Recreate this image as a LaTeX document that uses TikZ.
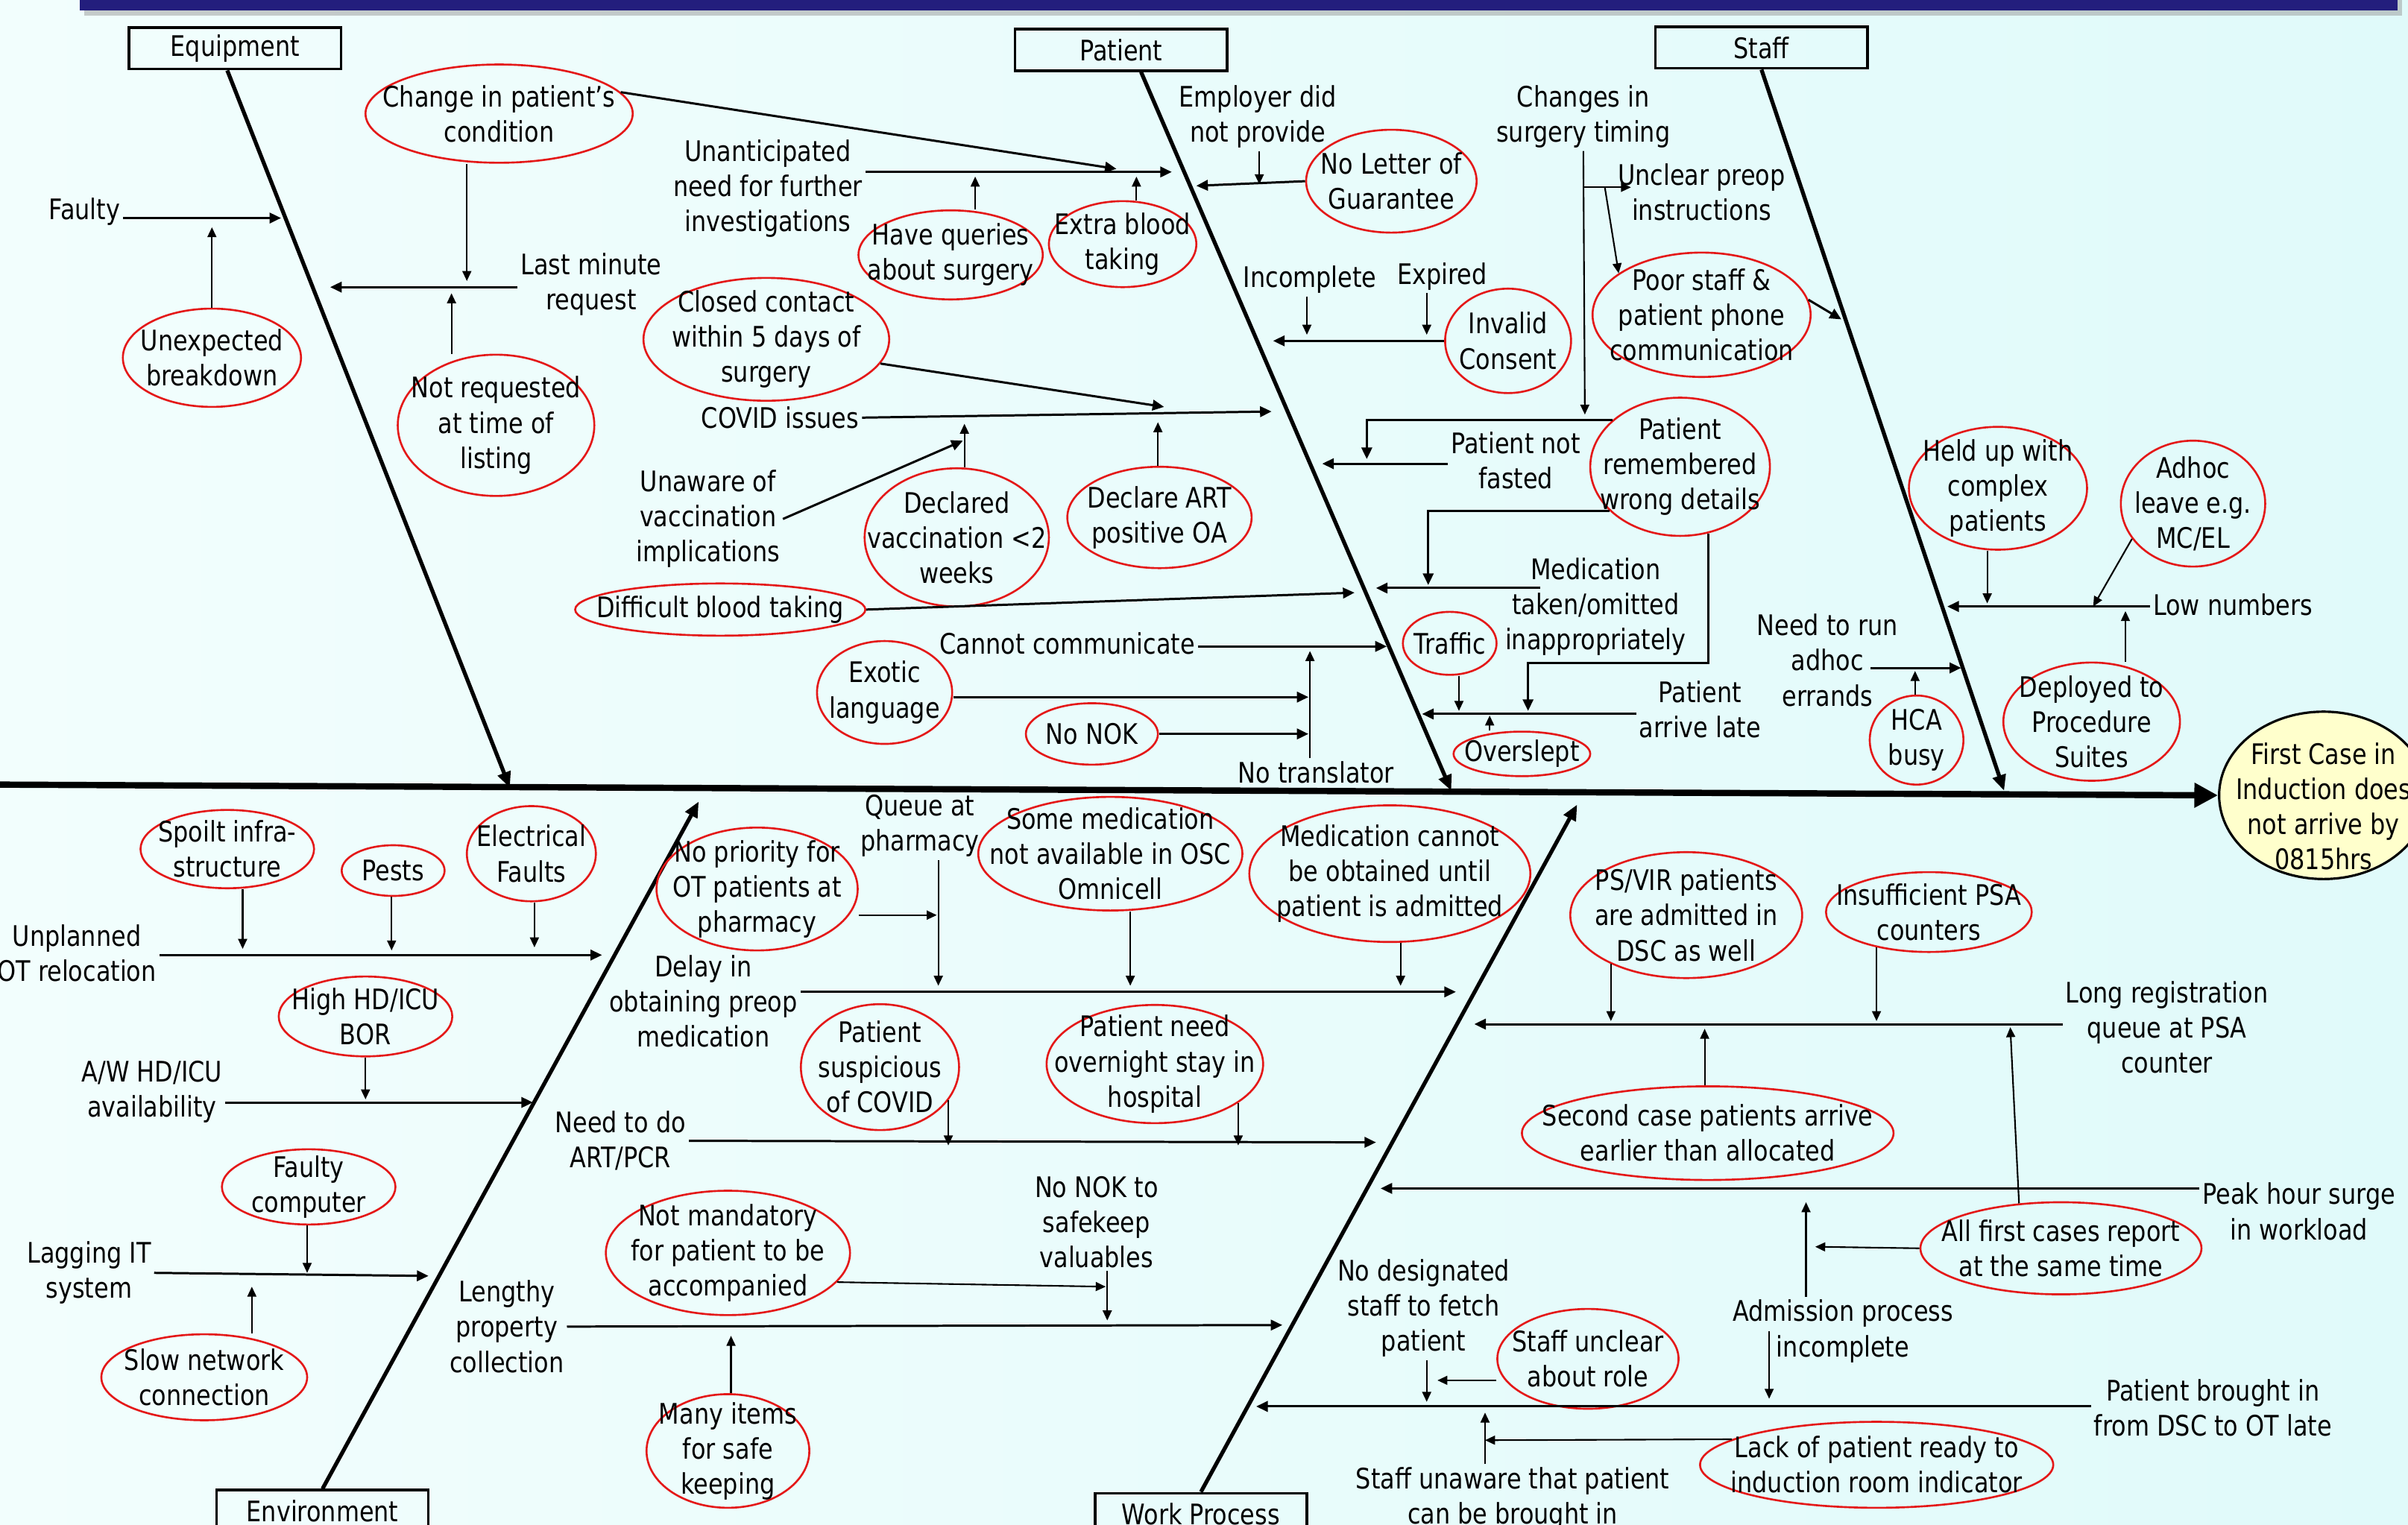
\documentclass[tikz,border=0pt]{standalone}
\usepackage{fontspec}
\setmainfont[FakeStretch=0.84]{DejaVu Sans}
\usepackage{xcolor}
\usetikzlibrary{shapes.geometric,arrows.meta}
\definecolor{ovalred}{RGB}{228,24,24}
\definecolor{barblue}{RGB}{35,30,125}
\definecolor{bgleft}{RGB}{242,254,253}
\definecolor{bgright}{RGB}{224,250,250}
\definecolor{headyellow}{RGB}{255,255,204}
\newcommand{\pxu}{0.0206cm}

\begin{document}
\begin{tikzpicture}[
  x=0.0206cm, y=-0.0206cm,
  txt/.style={align=center, inner sep=1pt, font=\fontsize{10.8}{13.4}\selectfont},
  catBox/.style={txt, draw, line width=1pt, minimum width=138*\pxu, minimum height=27*\pxu},
  oval/.style n args={3}{ellipse, draw=ovalred, line width=0.75pt, inner sep=0pt, minimum width=#1*\pxu, minimum height=#2*\pxu, label={[txt]center:{#3}}},
  bone/.style={line width=1.5pt, -{Triangle[length=6pt, width=5pt]}},
  br/.style={line width=0.85pt, -{Triangle[length=4.4pt, width=4pt]}},
  tn/.style={line width=0.6pt, -{Triangle[length=3.8pt, width=3.4pt]}}]

\useasboundingbox (0,0) rectangle (1568,993);
\fill [left color=bgleft, right color=bgright] (0,0) rectangle (1568,993);
\fill [black!40, opacity=0.5] (55,-3) rectangle (1564,10);
\fill [barblue] (52,-3) rectangle (1561,7);

\node [ellipse, draw, line width=0.9pt, fill=headyellow, inner sep=0pt, minimum width=136*\pxu, minimum height=109*\pxu, label={[txt, yshift=-7*\pxu]center:{First Case in\\Induction does\\not arrive by\\0815hrs}}] (head) at (1513,518) {};
\coordinate (tail) at (0,511);
\draw [line width=2.4pt, -{Triangle[length=9pt, width=9pt]}] (tail) -- (head.west);

\node [catBox] (equip) at (153,31.5) {Equipment};
\node [catBox] (pat) at (730,32.5) {Patient};
\node [catBox] (staff) at (1147,31) {Staff};
\node [catBox] (envir) at (210,984) {Environment};
\node [catBox] (work) at (782,986) {Work Process};

\coordinate (eqEnd) at (332,513);
\coordinate (paEnd) at (945,515);
\coordinate (stEnd) at (1305,515);
\coordinate (enEnd) at (455,522);
\coordinate (wpEnd) at (1027,524);
\draw [bone] ([xshift=-5*\pxu]equip.south) -- (eqEnd);
\draw [bone] ([xshift=13*\pxu]pat.south) -- (paEnd);
\draw [bone] (staff.south) -- (stEnd);
\draw [bone] (envir.north) -- (enEnd);
\draw [bone] (work.north) -- (wpEnd);

\node [txt] (faulty) at (55,138) {Faulty};
\node [oval={116}{64}{Unexpected\\breakdown}] (unexp) at (138,233) {};
\node [oval={174}{64}{Change in patient’s\\condition}] (chg) at (325,74) {};
\node [txt] (lastmin) at (385,185) {Last minute\\request};
\node [oval={128}{92}{Not requested\\at time of\\listing}] (notreq) at (323,277) {};

\coordinate (faultyE) at (183,142);
\coordinate (unexpE) at (138,148);
\coordinate (lastE) at (215,187);
\coordinate (chgE) at (304,183);
\coordinate (notreqE) at (294,191);
\coordinate (chgR) at (727,110);
\draw [br] (faulty.east |- faultyE) -- (faultyE);
\draw [tn] (unexp.north) -- (unexpE);
\draw [br] (lastmin.west |- lastE) -- (lastE);
\draw [tn] (chg.south -| chgE) -- (chgE);
\draw [tn] (notreq.north -| notreqE) -- (notreqE);
\draw [br] (chg.10) -- (chgR);

\node [txt] (unantic) at (500,123) {Unanticipated\\need for further\\investigations};
\node [oval={120}{58}{Have queries\\about surgery}] (queries) at (619,166) {};
\node [oval={96}{56}{Extra blood\\taking}] (extra) at (731,159) {};
\node [oval={160}{80}{Closed contact\\within 5 days of\\surgery}] (closed) at (499,221) {};
\node [txt] (covid) at (508,272) {COVID issues};
\node [txt] (unaware) at (461,338) {Unaware of\\vaccination\\implications};
\node [oval={120}{90}{Declared\\vaccination <2\\weeks}] (declvac) at (623,350) {};
\node [oval={120}{66}{Declare ART\\positive OA}] (declart) at (755,337) {};
\node [oval={189}{34}{Difficult blood taking}] (diffbl) at (469,397) {};
\node [txt] (cannot) at (695,419) {Cannot communicate};
\node [oval={88}{67}{Exotic\\language}] (exotic) at (576,451) {};
\node [oval={86}{40}{No NOK}] (nonok) at (711,478) {};
\node [txt] (notrans) at (857,503) {No translator};

\coordinate (unanticE) at (763,112);
\coordinate (queriesE) at (635,115);
\coordinate (extraE) at (740,115);
\coordinate (closedE) at (758,265);
\coordinate (covidE) at (828,268);
\coordinate (declvacE) at (628,276);
\coordinate (declartE) at (754,275);
\coordinate (unawareE) at (627,287);
\coordinate (diffblE) at (882,386);
\coordinate (cannotE) at (903,421);
\coordinate (exoticE) at (852,454);
\coordinate (nonokE) at (852,478);
\coordinate (notransE) at (853,424);
\draw [br] (unantic.east |- unanticE) -- (unanticE);
\draw [tn] (queries.north -| queriesE) -- (queriesE);
\draw [tn] (extra.north -| extraE) -- (extraE);
\draw [br] (closed.-12) -- (closedE);
\draw [br] (covid.east) -- (covidE);
\draw [tn] (declvac.north -| declvacE) -- (declvacE);
\draw [tn] (declart.north -| declartE) -- (declartE);
\draw [br] (unaware.east) -- (unawareE);
\draw [br] (diffbl.east) -- (diffblE);
\draw [br] (cannot.east |- cannotE) -- (cannotE);
\draw [br] (exotic.east |- exoticE) -- (exoticE);
\draw [br] (nonok.east) -- (nonokE);
\draw [tn] (notrans.north -| notransE) -- (notransE);

\node [txt] (employer) at (819,76) {Employer did\\not provide};
\node [oval={111}{67}{No Letter of\\Guarantee}] (noletter) at (906,118) {};
\node [txt] (incompl) at (853,182) {Incomplete};
\node [txt] (expired) at (939,180) {Expired};
\node [oval={82}{68}{Invalid\\Consent}] (invalid) at (982,222) {};
\node [txt] (notfast) at (987,300) {Patient not\\fasted};
\node [txt] (changes) at (1031,76) {Changes in\\surgery timing};
\node [txt] (unclear) at (1108,125) {Unclear preop\\instructions};
\node [oval={142}{81}{Poor staff \&\\patient phone\\communication}] (poor) at (1108,205) {};
\node [oval={117}{90}{Patient\\remembered\\wrong details}] (remem) at (1094,304) {};
\node [txt] (medtak) at (1039,395) {Medication\\taken/omitted\\inappropriately};
\node [oval={61}{41}{Traffic}] (traffic) at (944,419) {};
\node [oval={89}{29}{Overslept}] (oversl) at (991,491) {};
\node [txt] (arrlate) at (1107,462) {Patient\\arrive late};

\coordinate (employerE) at (820,120);
\coordinate (noletterE) at (779,121);
\coordinate (incomplE) at (851,218);
\coordinate (expiredE) at (929,218);
\coordinate (invalidE) at (829,222);
\coordinate (notfastE) at (861,302);
\coordinate (notfastK) at (890,299);
\coordinate (changesE) at (1032,270);
\coordinate (unclearE) at (1062,122);
\coordinate (splitP) at (1045,122);
\coordinate (poorE) at (1054,178);
\coordinate (poorR) at (1199,208);
\coordinate (medS) at (1003,383);
\coordinate (medE) at (896,383);
\coordinate (medK) at (930,381);
\coordinate (trafficE) at (950,463);
\coordinate (overE) at (970,466);
\coordinate (lateB) at (926,465);
\coordinate (lateK) at (995,432);
\coordinate (lateE) at (995,463);
\draw [tn] (employer.south -| employerE) -- (employerE);
\draw [br] (noletter.west) -- (noletterE);
\draw [tn] (incompl.south -| incomplE) -- (incomplE);
\draw [tn] (expired.south -| expiredE) -- (expiredE);
\draw [br] (invalid.west) -- (invalidE);
\draw [br] (notfast.west |- notfastE) -- (notfastE);
\draw [br] (remem.145) -| (notfastK);
\draw [tn] (changes.south) -- (changesE);
\draw [tn] (changes.south |- unclearE) -- (unclearE);
\draw [tn] (splitP) -- (poorE);
\draw [br] (poor.8) -- (poorR);
\draw [br] (medS) -- (medE);
\draw [br] (remem.-148) -| (medK);
\draw [tn] (traffic.south -| trafficE) -- (trafficE);
\draw [tn] (oversl.north -| overE) -- (overE);
\draw [br] (arrlate.west |- lateB) -- (lateB);
\draw [br] (remem.-67) |- (lateK) -- (lateE);

\node [oval={116}{80}{Held up with\\complex\\patients}] (heldup) at (1301,318) {};
\node [oval={94}{82}{Adhoc\\leave e.g.\\MC/EL}] (adhoc) at (1428,328) {};
\node [txt] (lownum) at (1454,394) {Low numbers};
\node [oval={115}{77}{Deployed to\\Procedure\\Suites}] (deploy) at (1362,470) {};
\node [txt] (needrun) at (1190,430) {Need to run\\adhoc\\errands};
\node [oval={61}{58}{HCA\\busy}] (hca) at (1248,482) {};

\coordinate (heldE) at (1294,393);
\coordinate (adhocE) at (1363,395);
\coordinate (lowE) at (1268,395);
\coordinate (deployE) at (1384,398);
\coordinate (needS) at (1218,435);
\coordinate (needE) at (1277,435);
\coordinate (hcaE) at (1247,437);
\draw [tn] (heldup.south -| heldE) -- (heldE);
\draw [tn] (adhoc.-150) -- (adhocE);
\draw [br] (lownum.west |- lowE) -- (lowE);
\draw [tn] (deploy.north -| deployE) -- (deployE);
\draw [br] (needS) -- (needE);
\draw [tn] (hca.north -| hcaE) -- (hcaE);

\node [oval={113}{51}{Spoilt infra-\\structure}] (spoilt) at (148,553) {};
\node [oval={67}{33}{Pests}] (pests) at (256,567) {};
\node [oval={84}{62}{Electrical\\Faults}] (elec) at (346,556) {};
\node [txt] (unplan) at (50,621) {Unplanned\\OT relocation};
\node [oval={113}{52}{High HD/ICU\\BOR}] (highhd) at (238,662) {};
\node [txt] (awhd) at (99,711) {A/W HD/ICU\\availability};
\node [oval={113}{49}{Faulty\\computer}] (fcomp) at (201,773) {};
\node [txt] (lagging) at (58,829) {Lagging IT\\system};
\node [oval={134}{56}{Slow network\\connection}] (slownet) at (133,897) {};

\coordinate (unplanE) at (392,622);
\coordinate (spoiltE) at (158,618);
\coordinate (pestsE) at (255,619);
\coordinate (elecE) at (348,617);
\coordinate (awE) at (347,718);
\coordinate (highE) at (238,716);
\coordinate (lagE) at (279,831);
\coordinate (fcompE) at (200,829);
\coordinate (slowE) at (164,838);
\draw [br] (unplan.east |- unplanE) -- (unplanE);
\draw [tn] (spoilt.south -| spoiltE) -- (spoiltE);
\draw [tn] (pests.south -| pestsE) -- (pestsE);
\draw [tn] (elec.south -| elecE) -- (elecE);
\draw [br] (awhd.east |- awE) -- (awE);
\draw [tn] (highhd.south) -- (highE);
\draw [br] (lagging.east) -- (lagE);
\draw [tn] (fcomp.south -| fcompE) -- (fcompE);
\draw [tn] (slownet.north -| slowE) -- (slowE);

\node [oval={131}{80}{No priority for\\OT patients at\\pharmacy}] (noprio) at (493,579) {};
\node [txt] (queue) at (599,538) {Queue at\\pharmacy};
\node [oval={172}{74}{Some medication\\not available in OSC\\Omnicell}] (somemed) at (723,556) {};
\node [oval={183}{89}{Medication cannot\\be obtained until\\patient is admitted}] (medcan) at (905,569) {};
\node [txt] (delay) at (458,652) {Delay in\\obtaining preop\\medication};
\node [oval={103}{82}{Patient\\suspicious\\of COVID}] (suspic) at (573,695) {};
\node [oval={141}{77}{Patient need\\overnight stay in\\hospital}] (overn) at (752,693) {};
\node [txt] (needart) at (404,743) {Need to do\\ART/PCR};
\node [oval={159}{81}{Not mandatory\\for patient to be\\accompanied}] (notmand) at (474,816) {};
\node [txt] (nonokto) at (714,796) {No NOK to\\safekeep\\valuables};
\node [txt] (lengthy) at (330,864) {Lengthy\\property\\collection};
\node [oval={106}{74}{Many items\\for safe\\keeping}] (many) at (474,945) {};

\coordinate (noprioE) at (610,596);
\coordinate (queueE) at (611,642);
\coordinate (somemedE) at (736,642);
\coordinate (medcanE) at (912,642);
\coordinate (delayE) at (948,646);
\coordinate (suspicE) at (620,746);
\coordinate (overnE) at (802,746);
\coordinate (needartE) at (896,744);
\coordinate (notmandE) at (720,838);
\coordinate (nonoktoE) at (721,860);
\coordinate (lengthyE) at (835,863);
\coordinate (manyE) at (476,870);
\draw [tn] (noprio.east |- noprioE) -- (noprioE);
\draw [tn] (queue.south -| queueE) -- (queueE);
\draw [tn] (somemed.south -| somemedE) -- (somemedE);
\draw [tn] (medcan.south -| medcanE) -- (medcanE);
\draw [br] (delay.east |- delayE) -- (delayE);
\draw [tn] (suspic.-26) -- (suspic.-26 |- suspicE);
\draw [tn] (overn.-25) -- (overn.-25 |- overnE);
\draw [br] (needart.east) -- (needartE);
\draw [tn] (notmand.-15) -- (notmandE);
\draw [tn] (nonokto.south -| nonoktoE) -- (nonoktoE);
\draw [br] (lengthy.east) -- (lengthyE);
\draw [tn] (many.north -| manyE) -- (manyE);

\node [oval={151}{82}{PS/VIR patients\\are admitted in\\DSC as well}] (psvir) at (1098,596) {};
\node [oval={134}{52}{Insufficient PSA\\counters}] (insuf) at (1256,594) {};
\node [txt] (longreg) at (1411,669) {Long registration\\queue at PSA\\counter};
\node [oval={242}{61}{Second case patients arrive\\earlier than allocated}] (second) at (1112,738) {};
\node [txt] (peak) at (1497,789) {Peak hour surge\\in workload};
\node [oval={183}{60}{All first cases report\\at the same time}] (allfirst) at (1342,813) {};
\node [txt] (admis) at (1200,867) {Admission process\\incomplete};
\node [txt] (brought) at (1441,917) {Patient brought in\\from DSC to OT late};
\node [txt] (nodesig) at (927,852) {No designated\\staff to fetch\\patient};
\node [oval={118}{65}{Staff unclear\\about role}] (sunclear) at (1034,885) {};
\node [txt] (sunaware) at (985,976) {Staff unaware that patient\\can be brought in};
\node [oval={230}{56}{Lack of patient ready to\\induction room indicator}] (lack) at (1222,954) {};

\coordinate (psvirE) at (1050,665);
\coordinate (insufE) at (1223,665);
\coordinate (longE) at (960,667);
\coordinate (secondE) at (1110,670);
\coordinate (peakE) at (899,774);
\coordinate (allfirstE) at (1309,669);
\coordinate (allfirstL) at (1182,812);
\coordinate (admisUp) at (1176,783);
\coordinate (admisDn) at (1152,911);
\coordinate (broughtE) at (818,916);
\coordinate (nodesigE) at (929,913);
\coordinate (suncE) at (936,899);
\coordinate (sunawE) at (967,920);
\coordinate (lackE) at (967,938);
\draw [tn] (psvir.-147) -- (psvir.-147 |- psvirE);
\draw [tn] (insuf.-146) -- (insuf.-146 |- insufE);
\draw [br] (longreg.west |- longE) -- (longE);
\draw [tn] (second.north -| secondE) -- (secondE);
\draw [br] (peak.west |- peakE) -- (peakE);
\draw [tn] (allfirst.133) -- (allfirstE);
\draw [tn] (allfirst.west) -- (allfirstL);
\draw [tn] (admis.north -| admisUp) -- (admisUp);
\draw [tn] (admis.west -| admisDn) -- (admisDn);
\draw [br] (brought.west |- broughtE) -- (broughtE);
\draw [tn] (nodesig.south -| nodesigE) -- (nodesigE);
\draw [tn] (sunclear.west |- suncE) -- (suncE);
\draw [tn] (sunaware.north -| sunawE) -- (sunawE);
\draw [tn] (lack.170) -- (lackE);
\end{tikzpicture}
\end{document}
